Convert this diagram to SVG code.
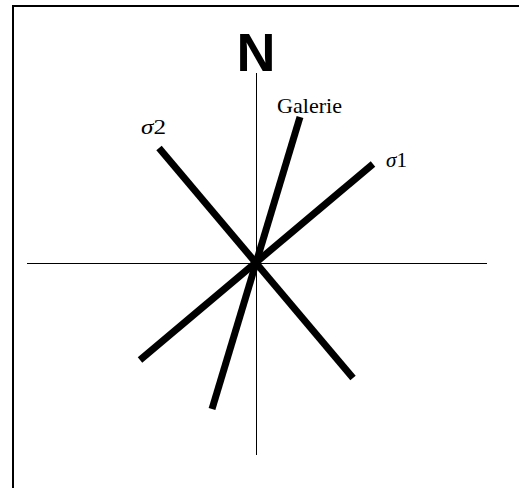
<svg xmlns="http://www.w3.org/2000/svg" width="519" height="488" viewBox="0 0 519 488">
<style>
.axis{stroke:#000;stroke-width:1;fill:none}
.bar{stroke:#000;stroke-width:7;stroke-linecap:butt;fill:none}
.lbl{font-family:"Liberation Serif","Times New Roman",serif;fill:#000}
.sig{font-style:italic}
</style>
<rect x="0" y="0" width="519" height="488" fill="#fff"/>
<rect id="frame" x="13" y="6" width="520" height="500" fill="none" stroke="#000" stroke-width="2"/>
<g id="axes">
<line class="axis" x1="27" y1="263.5" x2="487" y2="263.5"/>
<line class="axis" x1="256.5" y1="73" x2="256.5" y2="455"/>
</g>
<g id="connectors">
<line id="sigma2-line" class="bar" x1="159" y1="148" x2="353" y2="378"/>
<line id="galerie-line" class="bar" x1="300" y1="117" x2="212" y2="409"/>
<line id="sigma1-line" class="bar" x1="373" y1="164" x2="140" y2="360"/>
</g>
<g id="north">
<text x="256" y="71" text-anchor="middle" font-family="'Liberation Sans',Arial,sans-serif" font-weight="bold" font-size="54">N</text>
</g>
<g id="galerie">
<text class="lbl" x="277" y="113" font-size="22" textLength="65" lengthAdjust="spacingAndGlyphs">Galerie</text>
</g>
<g id="sigma2">
<text class="lbl" x="141" y="134" font-size="20" textLength="25" lengthAdjust="spacingAndGlyphs"><tspan class="sig">σ</tspan>2</text>
</g>
<g id="sigma1">
<text class="lbl" x="386" y="167" font-size="20" textLength="21" lengthAdjust="spacingAndGlyphs"><tspan class="sig">σ</tspan>1</text>
</g>
</svg>
